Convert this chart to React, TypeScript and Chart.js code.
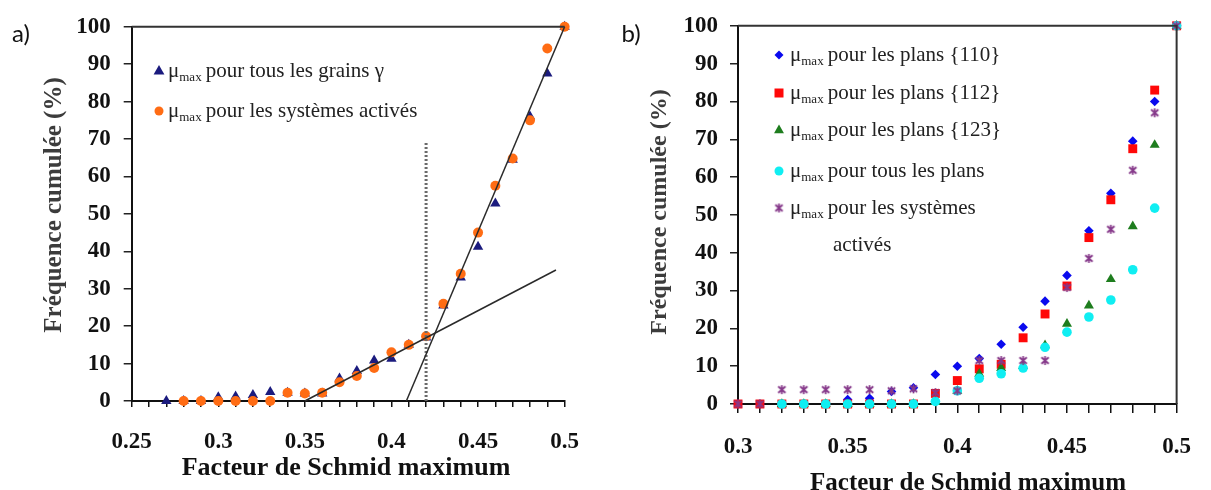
import React, { useEffect, useRef } from 'react';
import { Chart, registerables } from 'chart.js';
Chart.register(...registerables);

const SERIF = '"Liberation Serif", "Times New Roman", serif';

// ---------------- Panel a data ----------------
const A_X = [0.27, 0.28, 0.29, 0.30, 0.31, 0.32, 0.33, 0.34, 0.35, 0.36, 0.37, 0.38, 0.39, 0.40, 0.41, 0.42, 0.43, 0.44, 0.45, 0.46, 0.47, 0.48, 0.49, 0.50];
const A_GRAINS = [0, 0, 0, 1.0, 1.2, 1.6, 2.4, 2.2, 2.0, 2.0, 6.0, 8.0, 10.8, 11.3, 15.0, 17.0, 25.5, 33.0, 41.2, 52.8, 64.5, 76.0, 87.5, 100];
const A_SYSTEMS = [null, 0, 0, 0, 0, 0, 0, 2.2, 2.0, 2.2, 5.0, 6.7, 8.8, 13.0, 15.0, 17.3, 26.0, 34.0, 45.0, 57.5, 64.8, 75.0, 94.2, 100];
const A_FIT_LOW_X = [0.35, 0.495];
const A_FIT_LOW_Y = [0, 35];
const A_FIT_HIGH_X = [0.4086, 0.5];
const A_FIT_HIGH_Y = [0, 100];
const A_THRESHOLD_X = [0.42, 0.42];
const A_THRESHOLD_Y = [0, 69];
const A_TICK_LABELS = ['0.25', '0.3', '0.35', '0.4', '0.45', '0.5'];
const A_LEGEND = ['pour tous les grains \u03b3', 'pour les syst\u00e8mes activ\u00e9s'];

// ---------------- Panel b data ----------------
const B_X = [0.30, 0.31, 0.32, 0.33, 0.34, 0.35, 0.36, 0.37, 0.38, 0.39, 0.40, 0.41, 0.42, 0.43, 0.44, 0.45, 0.46, 0.47, 0.48, 0.49, 0.50];
const B_110 = [0, 0, 0, 0, 0, 1.2, 1.5, 3.3, 4.3, 7.8, 10.0, 12.0, 15.8, 20.3, 27.2, 34.0, 45.8, 55.7, 69.5, 80.0, 100];
const B_112 = [0, 0, 0, 0, 0, 0, 0, 0, 0, 2.8, 6.2, 9.3, 10.5, 17.5, 23.8, 31.2, 44.0, 54.0, 67.5, 83.0, 100];
const B_123 = [null, null, 0, 0, 0, 0, 0, 0, 0, 0.5, 3.5, 8.0, 9.5, 10.0, 15.5, 21.2, 26.0, 33.0, 47.0, 68.5, 100];
const B_ALL = [null, null, 0, 0, 0, 0, 0, 0, 0, 0.7, 3.5, 6.8, 8.0, 9.5, 15.0, 19.0, 23.0, 27.5, 35.5, 51.8, 100];
const B_ACT = [0, 0, 3.8, 3.8, 3.8, 3.8, 3.8, 3.5, 4.0, 3.0, 3.5, 11.5, 11.5, 11.5, 11.5, 30.8, 38.5, 46.2, 61.8, 77.0, 100];
const B_TICK_LABELS = ['0.3', '0.35', '0.4', '0.45', '0.5'];
const B_LEGEND = ['pour les plans {110}', 'pour les plans {112}', 'pour les plans {123}', 'pour tous les plans', 'pour les syst\u00e8mes'];
const B_LEGEND_CONT = 'activ\u00e9s';

const Y_TITLE = 'Fr\u00e9quence cumul\u00e9e (%)';
const X_TITLE = 'Facteur de Schmid maximum';

const C_NAVY = '#1b1b7e';
const C_ORANGE = '#ff6c14';
const C_BLUE = '#0a0aee';
const C_RED = '#ff0808';
const C_GREEN = '#1e7d1e';
const C_CYAN = '#10eef2';
const C_PURPLE = '#86398a';

function pts(xs: number[], ys: (number | null)[]) {
  const out: { x: number; y: number }[] = [];
  xs.forEach((x, i) => {
    const y = ys[i];
    if (y !== null && y !== undefined) out.push({ x, y });
  });
  return out;
}

function makeAsterisk(color: string, size: number, lw: number) {
  const c = document.createElement('canvas');
  c.width = size;
  c.height = size;
  const g = c.getContext('2d')!;
  g.strokeStyle = color;
  g.lineWidth = lw;
  const m = size / 2;
  const r = size / 2 - lw / 2;
  g.beginPath();
  g.moveTo(m, m - r); g.lineTo(m, m + r);
  g.moveTo(m - r * 0.8, m - r * 0.7); g.lineTo(m + r * 0.8, m + r * 0.7);
  g.moveTo(m + r * 0.8, m - r * 0.7); g.lineTo(m - r * 0.8, m + r * 0.7);
  g.stroke();
  return c;
}

function drawMarker(ctx: CanvasRenderingContext2D, style: string, x: number, y: number, color: string, r: number, img?: HTMLCanvasElement) {
  ctx.save();
  ctx.fillStyle = color;
  ctx.strokeStyle = color;
  ctx.beginPath();
  if (style === 'triangle') {
    ctx.moveTo(x, y - r);
    ctx.lineTo(x + r * 0.9, y + r * 0.6);
    ctx.lineTo(x - r * 0.9, y + r * 0.6);
    ctx.closePath();
    ctx.fill();
  } else if (style === 'circle') {
    ctx.arc(x, y, r, 0, Math.PI * 2);
    ctx.fill();
  } else if (style === 'rect') {
    ctx.rect(x - r, y - r, 2 * r, 2 * r);
    ctx.fill();
  } else if (style === 'rectRot') {
    ctx.moveTo(x, y - r); ctx.lineTo(x + r, y); ctx.lineTo(x, y + r); ctx.lineTo(x - r, y);
    ctx.closePath();
    ctx.fill();
  } else if (style === 'image' && img) {
    ctx.drawImage(img, x - img.width / 2, y - img.height / 2);
  }
  ctx.restore();
}

function drawMuText(ctx: CanvasRenderingContext2D, x: number, baseline: number, rest: string, size: number) {
  ctx.save();
  ctx.fillStyle = '#222';
  ctx.textBaseline = 'alphabetic';
  ctx.textAlign = 'left';
  ctx.font = `${size}px ${SERIF}`;
  ctx.fillText('\u03bc', x, baseline);
  let cx = x + ctx.measureText('\u03bc').width;
  ctx.font = `${Math.round(size * 0.62)}px ${SERIF}`;
  ctx.fillText('max', cx, baseline + 4);
  cx += ctx.measureText('max').width + 4;
  ctx.font = `${size}px ${SERIF}`;
  ctx.fillText(rest, cx, baseline);
  ctx.restore();
}

function drawRotTitle(ctx: CanvasRenderingContext2D, text: string, x: number, y: number, font: string, color: string) {
  ctx.save();
  ctx.translate(x, y);
  ctx.rotate(-Math.PI / 2);
  ctx.font = font;
  ctx.fillStyle = color;
  ctx.textAlign = 'center';
  ctx.textBaseline = 'middle';
  ctx.fillText(text, 0, 0);
  ctx.restore();
}

function drawText(ctx: CanvasRenderingContext2D, text: string, x: number, y: number, font: string, color: string, align: CanvasTextAlign = 'center') {
  ctx.save();
  ctx.font = font;
  ctx.fillStyle = color;
  ctx.textAlign = align;
  ctx.textBaseline = 'middle';
  ctx.fillText(text, x, y);
  ctx.restore();
}

function tickLabel(labels: string[]) {
  return (v: number | string) => {
    const k = Math.round(Number(v) * 100);
    const l = labels.find((s) => Math.round(parseFloat(s) * 100) === k);
    return l ?? '';
  };
}

const TICK_FONT = { family: SERIF, size: 23, weight: 'bold' as const };

function baseScales(xMin: number, xMax: number, labels: string[], yWidth: number, xHeight: number, xTickLen: number, xPad: number, yPad: number) {
  return {
    x: {
      type: 'linear' as const,
      min: xMin,
      max: xMax,
      afterFit: (s: any) => { s.height = xHeight; },
      ticks: { stepSize: 0.01, autoSkip: false, maxRotation: 0, padding: xPad, font: TICK_FONT, color: '#111', callback: tickLabel(labels) },
      grid: { display: true, drawOnChartArea: false, drawTicks: true, tickLength: xTickLen, color: '#111', lineWidth: 1.5 },
      border: { display: true, color: '#111', width: 2 },
    },
    y: {
      type: 'linear' as const,
      min: 0,
      max: 100,
      afterFit: (s: any) => { s.width = yWidth; },
      ticks: { stepSize: 10, padding: yPad, font: TICK_FONT, color: '#111' },
      grid: { display: true, drawOnChartArea: false, drawTicks: true, tickLength: 8, color: '#222', lineWidth: 1.5 },
      border: { display: true, color: '#111', width: 2 },
    },
  };
}

export default function App() {
  const refA = useRef<HTMLCanvasElement>(null);
  const refB = useRef<HTMLCanvasElement>(null);

  useEffect(() => {
    const asterisk = makeAsterisk(C_PURPLE, 11, 1.8);

    const overlayA = {
      id: 'overlayA',
      afterDraw(chart: any) {
        const ctx = chart.ctx as CanvasRenderingContext2D;
        const ca = chart.chartArea;
        ctx.save();
        ctx.strokeStyle = '#333';
        ctx.lineWidth = 2;
        ctx.beginPath();
        ctx.moveTo(ca.left, ca.top);
        ctx.lineTo(ca.right, ca.top);
        ctx.stroke();
        ctx.restore();
        drawMarker(ctx, 'triangle', 159, 71, C_NAVY, 6);
        drawMuText(ctx, 168, 77, A_LEGEND[0], 21);
        drawMarker(ctx, 'circle', 159, 111, C_ORANGE, 4.5);
        drawMuText(ctx, 168, 117, A_LEGEND[1], 21);
        drawRotTitle(ctx, Y_TITLE, 55, 205, `bold 25px ${SERIF}`, '#3c3c3c');
        drawText(ctx, X_TITLE, 346, 468, `bold 26px ${SERIF}`, '#111');
        drawText(ctx, 'a)', 21, 34, '24px Lato, "Open Sans", sans-serif', '#111');
      },
    };

    const overlayB = {
      id: 'overlayB',
      afterDraw(chart: any) {
        const ctx = chart.ctx as CanvasRenderingContext2D;
        const ca = chart.chartArea;
        ctx.save();
        ctx.strokeStyle = '#333';
        ctx.lineWidth = 2;
        ctx.beginPath();
        ctx.moveTo(ca.left, ca.top);
        ctx.lineTo(ca.right, ca.top);
        ctx.lineTo(ca.right, ca.bottom);
        ctx.stroke();
        ctx.restore();
        const mx = 179;
        const rows = [55, 93, 130, 171, 208];
        drawMarker(ctx, 'rectRot', mx, rows[0], C_BLUE, 4.5);
        drawMarker(ctx, 'rect', mx, rows[1], C_RED, 4.5);
        drawMarker(ctx, 'triangle', mx, rows[2], C_GREEN, 5.5);
        drawMarker(ctx, 'circle', mx, rows[3], C_CYAN, 4.5);
        drawMarker(ctx, 'image', mx, rows[4], C_PURPLE, 5, asterisk);
        rows.forEach((r, i) => drawMuText(ctx, 190, r + 6, B_LEGEND[i], 21));
        ctx.save();
        ctx.font = `21px ${SERIF}`;
        ctx.fillStyle = '#222';
        ctx.textBaseline = 'alphabetic';
        ctx.fillText(B_LEGEND_CONT, 233, 251);
        ctx.restore();
        drawRotTitle(ctx, Y_TITLE, 60, 212, `bold 24px ${SERIF}`, '#3c3c3c');
        drawText(ctx, X_TITLE, 368, 484, `bold 25px ${SERIF}`, '#111');
        drawText(ctx, 'b)', 31, 34, '24px Lato, "Open Sans", sans-serif', '#111');
      },
    };

    const lineDs = (xs: number[], ys: number[], extra: any = {}) => ({
      data: pts(xs, ys),
      showLine: true,
      pointRadius: 0,
      borderColor: '#2a2a2a',
      borderWidth: 1.5,
      fill: false,
      clip: false,
      order: 0,
      ...extra,
    });

    const chartA = new Chart(refA.current!, {
      type: 'scatter',
      data: {
        datasets: [
          { label: 'systemes', data: pts(A_X, A_SYSTEMS), pointStyle: 'circle', pointRadius: 5, backgroundColor: C_ORANGE, borderColor: C_ORANGE, borderWidth: 0, clip: false, order: 1 },
          { label: 'grains', data: pts(A_X, A_GRAINS), pointStyle: 'triangle', pointRadius: 6, backgroundColor: C_NAVY, borderColor: C_NAVY, borderWidth: 0, clip: false, order: 2 },
          lineDs(A_FIT_LOW_X, A_FIT_LOW_Y),
          lineDs(A_FIT_HIGH_X, A_FIT_HIGH_Y),
          lineDs(A_THRESHOLD_X, A_THRESHOLD_Y, { borderColor: '#6a6a6a', borderWidth: 3, borderDash: [2, 2] }),
        ],
      } as any,
      options: {
        responsive: false,
        animation: false,
        layout: { padding: { left: 0, top: 15, right: 29, bottom: 0 } },
        plugins: { legend: { display: false }, tooltip: { enabled: false } },
        scales: baseScales(0.25, 0.5, A_TICK_LABELS, 131.7, 89, 6, 21, 13) as any,
      },
      plugins: [overlayA],
    });

    const chartB = new Chart(refB.current!, {
      type: 'scatter',
      data: {
        datasets: [
          { label: '{110}', data: pts(B_X, B_110), pointStyle: 'rectRot', pointRadius: 4.8, backgroundColor: C_BLUE, borderColor: C_BLUE, borderWidth: 0, clip: false, order: 5 },
          { label: '{112}', data: pts(B_X, B_112), pointStyle: 'rect', pointRadius: 6.3, backgroundColor: C_RED, borderColor: C_RED, borderWidth: 0, clip: false, order: 4 },
          { label: '{123}', data: pts(B_X, B_123), pointStyle: 'triangle', pointRadius: 5.8, backgroundColor: C_GREEN, borderColor: C_GREEN, borderWidth: 0, clip: false, order: 3 },
          { label: 'tous', data: pts(B_X, B_ALL), pointStyle: 'circle', pointRadius: 4.8, backgroundColor: C_CYAN, borderColor: C_CYAN, borderWidth: 0, clip: false, order: 2 },
          { label: 'actives', data: pts(B_X, B_ACT), pointStyle: asterisk, pointRadius: 5, clip: false, order: 1 },
        ],
      } as any,
      options: {
        responsive: false,
        animation: false,
        layout: { padding: { left: 0, top: 18, right: 23, bottom: 0 } },
        plugins: { legend: { display: false }, tooltip: { enabled: false } },
        scales: baseScales(0.3, 0.5, B_TICK_LABELS, 138, 86, 9, 20, 12) as any,
      },
      plugins: [overlayB],
    });

    return () => {
      chartA.destroy();
      chartB.destroy();
    };
  }, []);

  return (
    <div style={{ position: 'absolute', left: 0, top: 0, width: 1211, height: 490, background: '#fff', overflow: 'hidden' }}>
      <canvas ref={refA} width={600} height={490} style={{ position: 'absolute', left: 0, top: 0, width: 600, height: 490 }} />
      <canvas ref={refB} width={611} height={490} style={{ position: 'absolute', left: 600, top: 0, width: 611, height: 490 }} />
    </div>
  );
}
